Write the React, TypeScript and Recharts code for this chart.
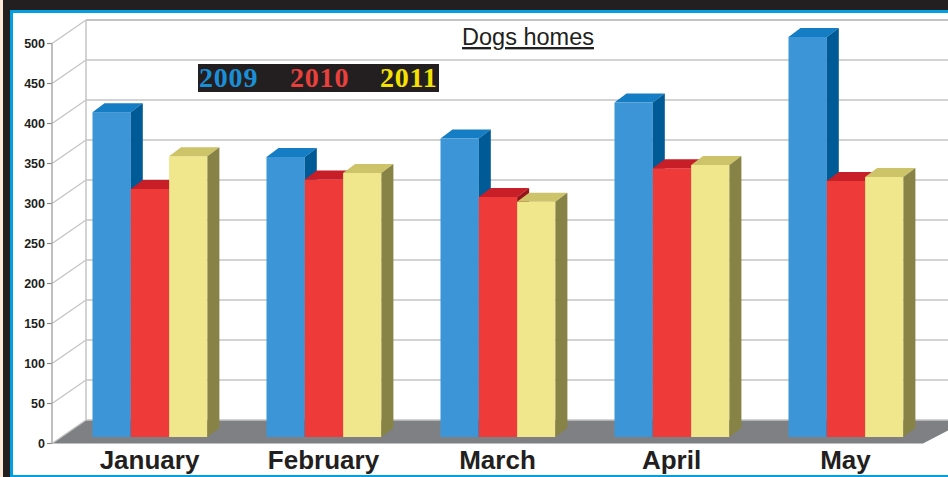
import { BarChart, Bar, XAxis, YAxis } from 'recharts';

// chart values
const months = ['January', 'February', 'March', 'April', 'May'];
const seriesNames = ['2009', '2010', '2011'];
const values2009 = [406, 350, 373, 418, 500];
const values2010 = [310, 322, 300, 336, 320];
const values2011 = [351, 330, 294, 340, 325];
const yTicks = [0, 50, 100, 150, 200, 250, 300, 350, 400, 450, 500];

const data = months.map((month, i) => ({
  month,
  s2009: values2009[i],
  s2010: values2010[i],
  s2011: values2011[i],
}));
const keys = ['s2009', 's2010', 's2011'];

const W = 948;
const H = 477;
const MARGIN = { top: 37, right: 15.5, left: 0, bottom: 0 };
const Y_AXIS_W = 62.5;
const X_AXIS_H = 40;
const PLOT_BOTTOM = H - MARGIN.bottom - X_AXIS_H;

// pseudo-3D geometry
const FRONT_X = 52;
const BACK_X = 86;
const FRONT_DY = 6.5;
const BACK_DY = -17;
const DEPTH_X = 12;
const DEPTH_Y = 9;

const INK = '#231f20';
const GRID = '#c4c4c4';

const palette = [
  { front: '#3b95d6', top: '#147dc3', side: '#005a96', legend: '#1b8fd5' },
  { front: '#ee3a39', top: '#c81e28', side: '#961419', legend: '#e8403c' },
  { front: '#f0e68c', top: '#cdc369', side: '#878246', legend: '#f5e200' },
];

function GridTick(props: any) {
  const { y, payload } = props;
  const v = payload.value;
  const yf = y + FRONT_DY;
  const yb = y + BACK_DY;
  return (
    <g>
      {v === 0 && (
        <polygon
          points={`${BACK_X},${yb} ${W + 20},${yb} ${923},${yf} ${FRONT_X},${yf}`}
          fill="#7f8083"
        />
      )}
      <line x1={FRONT_X} y1={yf} x2={BACK_X} y2={yb} stroke={GRID} strokeWidth={1.3} />
      <line x1={BACK_X} y1={yb} x2={W} y2={yb} stroke={GRID} strokeWidth={v === 500 ? 2 : 1.5} />
      <line x1={FRONT_X - 5} y1={yf} x2={FRONT_X} y2={yf} stroke="#8a8a8a" strokeWidth={1.2} />
      <text
        x={FRONT_X - 7}
        y={yf}
        textAnchor="end"
        dominantBaseline="central"
        fontFamily="'Liberation Sans', Arial, sans-serif"
        fontWeight="bold"
        fontSize={12.5}
        fill={INK}
      >
        {v}
      </text>
      {v === 500 && (
        <>
          <line x1={BACK_X} y1={yb} x2={BACK_X} y2={PLOT_BOTTOM + BACK_DY} stroke={GRID} strokeWidth={1.5} />
          <line x1={FRONT_X} y1={yf} x2={FRONT_X} y2={PLOT_BOTTOM + FRONT_DY} stroke="#a8a8a8" strokeWidth={1.5} />
        </>
      )}
    </g>
  );
}

function MonthTick(props: any) {
  const { x, payload } = props;
  return (
    <text
      x={x}
      y={PLOT_BOTTOM + 32}
      textAnchor="middle"
      fontFamily="'Liberation Sans', Arial, sans-serif"
      fontWeight="bold"
      fontSize={26}
      fill={INK}
    >
      {payload.value}
    </text>
  );
}

function Box(props: any) {
  const { x, y, width: w, height: h, colors } = props;
  if (h == null || w == null) return null;
  return (
    <g>
      <rect x={x} y={y} width={w} height={h} fill={colors.front} />
      <polygon
        points={`${x},${y} ${x + DEPTH_X},${y - DEPTH_Y} ${x + w + DEPTH_X},${y - DEPTH_Y} ${x + w},${y}`}
        fill={colors.top}
      />
      <polygon
        points={`${x + w},${y} ${x + w + DEPTH_X},${y - DEPTH_Y} ${x + w + DEPTH_X},${y + h - DEPTH_Y} ${x + w},${y + h}`}
        fill={colors.side}
      />
    </g>
  );
}

export default function App() {
  const legendX = [199, 290, 380];
  return (
    <div style={{ position: 'absolute', left: 0, top: 0, width: W, height: H, background: '#fff', overflow: 'hidden' }}>
      {/* frame */}
      <div style={{ position: 'absolute', left: 0, top: 0, width: W, height: 10, background: INK }} />
      <div style={{ position: 'absolute', left: 0, top: 0, width: 3, height: H, background: '#fdebd7' }} />
      <div style={{ position: 'absolute', left: 3, top: 0, width: 7, height: H, background: INK }} />
      <div style={{ position: 'absolute', left: 10, top: 10, width: 3, height: H, background: '#00a0e1' }} />
      <div style={{ position: 'absolute', left: 10, top: 10, width: W, height: 2.5, background: '#00a0e1' }} />
      <div style={{ position: 'absolute', left: 10, top: 474.5, width: W, height: 3, background: '#00a0e1' }} />

      {/* back wall, floor and y axis (bars invisible, only to share layout) */}
      <div style={{ position: 'absolute', left: 0, top: 0 }}>
        <BarChart width={W} height={H} data={data} margin={MARGIN} barGap={0}>
          <XAxis dataKey="month" height={X_AXIS_H} axisLine={false} tickLine={false} tick={false} />
          <YAxis
            width={Y_AXIS_W}
            domain={[0, 500]}
            ticks={yTicks}
            interval={0}
            axisLine={false}
            tickLine={false}
            tick={<GridTick />}
          />
          {keys.map((k) => (
            <Bar key={k} dataKey={k} barSize={38.3} fill="none" isAnimationActive={false} />
          ))}
        </BarChart>
      </div>

      {/* bars and month labels */}
      <div style={{ position: 'absolute', left: 0, top: 0 }}>
        <BarChart width={W} height={H} data={data} margin={MARGIN} barGap={0}>
          <XAxis
            dataKey="month"
            height={X_AXIS_H}
            axisLine={false}
            tickLine={false}
            interval={0}
            tick={<MonthTick />}
          />
          <YAxis width={Y_AXIS_W} domain={[0, 500]} ticks={yTicks} axisLine={false} tickLine={false} tick={false} />
          {keys.map((k, i) => (
            <Bar
              key={k}
              dataKey={k}
              name={seriesNames[i]}
              barSize={38.3}
              isAnimationActive={false}
              shape={(p: any) => <Box {...p} colors={palette[i]} />}
            />
          ))}
        </BarChart>
      </div>

      {/* title and legend */}
      <svg width={W} height={H} style={{ position: 'absolute', left: 0, top: 0, pointerEvents: 'none' }}>
        <text
          x={528}
          y={45}
          textAnchor="middle"
          fontFamily="'Liberation Sans', Arial, sans-serif"
          fontSize={23.5}
          fill={INK}
          textDecoration="underline"
        >
          Dogs homes
        </text>
        <rect x={198} y={64} width={241} height={28} fill={INK} />
        {seriesNames.map((n, i) => (
          <text
            key={n}
            x={legendX[i]}
            y={86.5}
            fontFamily="'Liberation Serif', 'Times New Roman', serif"
            fontWeight="bold"
            fontSize={28}
            letterSpacing={0.8}
            fill={palette[i].legend}
          >
            {n}
          </text>
        ))}
      </svg>
    </div>
  );
}
